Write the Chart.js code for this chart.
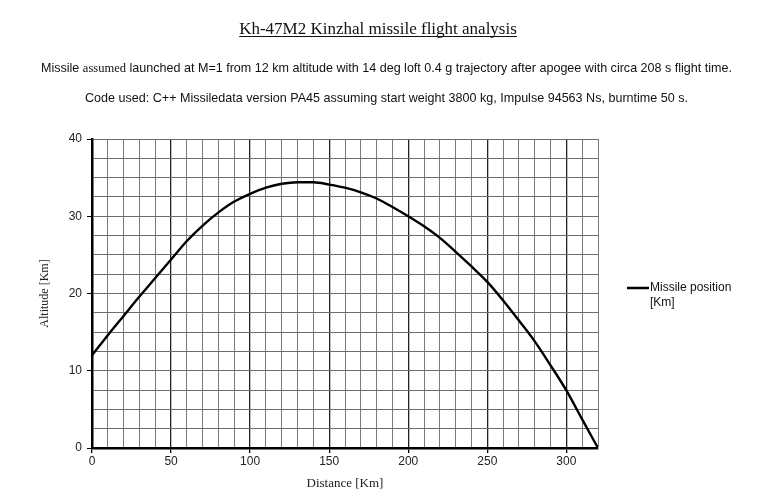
<!DOCTYPE html>
<html>
<head>
<meta charset="utf-8">
<script src="https://cdn.jsdelivr.net/npm/chart.js@4.4.1/dist/chart.umd.min.js"></script>
<style>
  html, body { margin: 0; padding: 0; background: #fff; }
  #wrap { width: 760px; height: 500px; position: relative; }
</style>
</head>
<body>
<div id="wrap"><canvas id="flightChart"></canvas></div>
<script>
// Valeurs
const distanceKm = [0, 10, 20, 30, 40, 50, 60, 70, 80, 90, 100, 110, 120, 130, 140, 150, 160,
                    170, 180, 190, 200, 210, 220, 230, 240, 250, 260, 270, 280, 290, 300, 310, 320];
const altitudeKm = [12.0, 14.6, 17.1, 19.6, 22.0, 24.4, 26.8, 28.8, 30.5, 31.9, 32.9, 33.7, 34.2, 34.4, 34.4, 34.1, 33.7,
                    33.1, 32.3, 31.2, 30.0, 28.7, 27.2, 25.4, 23.5, 21.5, 19.1, 16.5, 13.8, 10.7, 7.45, 3.7, 0.0];
const xTickLabels = [0, 50, 100, 150, 200, 250, 300];
const yTickLabels = [0, 10, 20, 30, 40];

const titleText = 'Kh-47M2 Kinzhal missile flight analysis';
const noteLine1 = [
    { text: 'Missile ', serif: false },
    { text: 'assumed', serif: true },
    { text: ' launched at M=1 from 12 km altitude with 14 deg loft 0.4 g trajectory after apogee with circa 208 s flight time.', serif: false }
];
const noteLine2 = [
    { text: 'Code used: C++ Missiledata version PA45 assuming start weight 3800 kg, Impulse 94563 Ns, burntime 50 s.', serif: false }
];

const SANS = '"Liberation Sans", Arial, sans-serif';
const SERIF = '"Liberation Serif", "Times New Roman", serif';

// Ecrit une ligne composée de morceaux, comprimée pour tenir dans la largeur voulue
function drawFittedLine(ctx, parts, x0, x1, y, size) {
    let total = 0;
    parts.forEach(p => {
        ctx.font = size + 'px ' + (p.serif ? SERIF : SANS);
        p.w = ctx.measureText(p.text).width;
        total += p.w;
    });
    const sx = Math.min(1, (x1 - x0) / total);
    const start = (x0 + x1) / 2 - total * sx / 2;
    ctx.save();
    ctx.translate(start, y);
    ctx.scale(sx, 1);
    let cx = 0;
    parts.forEach(p => {
        ctx.font = size + 'px ' + (p.serif ? SERIF : SANS);
        ctx.fillText(p.text, cx, 0);
        cx += p.w;
    });
    ctx.restore();
}

const headerPlugin = {
    id: 'header',
    afterDraw(chart) {
        const ctx = chart.ctx;
        ctx.save();
        ctx.fillStyle = '#111';
        ctx.textBaseline = 'alphabetic';
        ctx.textAlign = 'left';

        // Titre souligné
        ctx.font = '17px ' + SERIF;
        const tw = ctx.measureText(titleText).width;
        const tx = 378 - tw / 2;
        ctx.fillText(titleText, tx, 34);
        ctx.strokeStyle = '#111';
        ctx.lineWidth = 1;
        ctx.beginPath();
        ctx.moveTo(tx, 36.5);
        ctx.lineTo(tx + tw, 36.5);
        ctx.stroke();

        drawFittedLine(ctx, noteLine1, 41, 732, 72, 13);
        drawFittedLine(ctx, noteLine2, 85, 688, 102, 13);

        // Légende à droite
        const ds = chart.data.datasets[0];
        ctx.strokeStyle = ds.borderColor;
        ctx.lineWidth = 2.5;
        ctx.beginPath();
        ctx.moveTo(627, 288);
        ctx.lineTo(649, 288);
        ctx.stroke();
        ctx.font = '12px ' + SANS;
        ctx.textBaseline = 'middle';
        const words = ds.label.split(' [');
        ctx.fillText(words[0], 650, 288);
        ctx.fillText('[' + words[1], 650, 303);
        ctx.restore();
    }
};

document.addEventListener('DOMContentLoaded', function() {
    const points = distanceKm.map((d, i) => ({ x: d, y: altitudeKm[i] }));
    const ctx = document.getElementById('flightChart').getContext('2d');

    new Chart(ctx, {
        type: 'line',
        data: {
            datasets: [{
                label: 'Missile position [Km]',
                data: points,
                borderColor: '#000',
                borderWidth: 2.4,
                pointRadius: 0,
                fill: false,
                cubicInterpolationMode: 'monotone'
            }]
        },
        options: {
            responsive: true,
            maintainAspectRatio: false,
            animation: false,
            layout: { padding: { top: 139, right: 162, left: 0, bottom: 0 } },
            plugins: {
                legend: { display: false },
                tooltip: { enabled: false }
            },
            scales: {
                x: {
                    type: 'linear',
                    min: 0,
                    max: 320,
                    afterFit: s => { s.height = 52; },
                    ticks: {
                        stepSize: 10,
                        padding: 1,
                        color: '#222',
                        font: { family: SANS, size: 12 },
                        maxRotation: 0,
                        autoSkip: false,
                        callback: v => xTickLabels.includes(v) ? v : ''
                    },
                    grid: {
                        color: c => (c.tick && c.tick.value % 50 === 0) ? '#222' : '#7a7a7a',
                        lineWidth: c => (c.tick && c.tick.value % 50 === 0) ? 1.3 : 1,
                        tickColor: c => (c.tick && c.tick.value % 50 === 0) ? '#000' : 'rgba(0,0,0,0)',
                        tickLength: 5
                    },
                    border: { color: '#000', width: 2.5 },
                    title: {
                        display: true,
                        text: 'Distance [Km]',
                        color: '#222',
                        font: { family: SERIF, size: 13 },
                        padding: { top: 0, bottom: 9 }
                    }
                },
                y: {
                    min: 0,
                    max: 40,
                    afterFit: s => { s.width = 92; },
                    ticks: {
                        stepSize: 2.5,
                        padding: 5,
                        color: '#222',
                        font: { family: SANS, size: 12 },
                        autoSkip: false,
                        callback: v => yTickLabels.includes(v) ? v : ''
                    },
                    grid: {
                        color: '#6e6e6e',
                        lineWidth: 1,
                        tickColor: c => (c.tick && c.tick.value % 10 === 0) ? '#000' : 'rgba(0,0,0,0)',
                        tickLength: 5
                    },
                    border: { color: '#000', width: 2.5 },
                    title: {
                        display: true,
                        text: 'Altitude [Km]',
                        color: '#222',
                        font: { family: SERIF, size: 12 },
                        padding: { top: 38, bottom: 0 }
                    }
                }
            }
        },
        plugins: [headerPlugin]
    });
});
</script>
</body>
</html>
